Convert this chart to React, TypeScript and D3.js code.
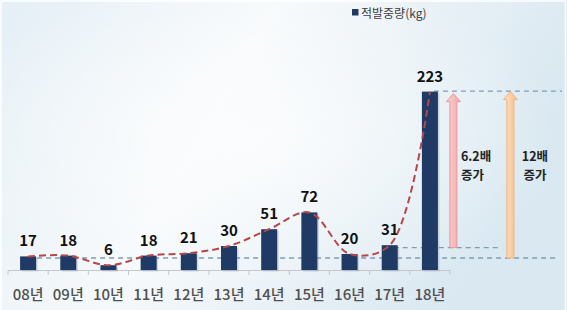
import React from "react";
import * as d3 from "d3";

const categories = ["08년", "09년", "10년", "11년", "12년", "13년", "14년", "15년", "16년", "17년", "18년"];
const values = [17, 18, 6, 18, 21, 30, 51, 72, 20, 31, 223];
const legendLabel = "적발중량(kg)";
const refLowLevel = 15;
const refHighLevel = 28;
const arrowLabels = [
  ["6.2배", "증가"],
  ["12배", "증가"],
];

const W = 567;
const H = 310;

export default function App() {
  const x = d3.scaleBand<string>().domain(categories).range([8, 450]).paddingInner(0).paddingOuter(0);
  const y = d3.scaleLinear().domain([0, 250]).range([270, 70]);
  const bw = 16;
  const cx = (c: string) => (x(c) as number) + x.bandwidth() / 2;

  const linePts: [number, number][] = categories.map((c, i) => [cx(c), y(values[i])]);
  const line = d3.line().curve(d3.curveCatmullRom.alpha(0.5))(linePts) as string;

  const lastC = categories[categories.length - 1];
  const lastX = cx(lastC);
  const topY = y(values[values.length - 1]);
  const hiY = y(refHighLevel);
  const loY = y(refLowLevel);
  const x17 = cx(categories[9]);

  const pinkX = lastX + 23.5;
  const orangeX = lastX + 80.5;

  const arrow = (xc: number, yBottom: number, yTip: number) => {
    const sw = 3.5;
    const hw = 7;
    const hh = 8;
    return `M${xc - sw},${yBottom} L${xc - sw},${yTip + hh} L${xc - hw},${yTip + hh} L${xc},${yTip} L${xc + hw},${yTip + hh} L${xc + sw},${yTip + hh} L${xc + sw},${yBottom} Z`;
  };

  return (
    <svg width={W} height={H} style={{ position: "absolute", left: 0, top: 0 }} fontFamily="'Noto Sans CJK KR', 'Noto Sans', sans-serif">
      <defs>
        <linearGradient id="bg" x1="0" y1="0" x2="1" y2="0.3">
          <stop offset="0" stopColor="#e4eff6" />
          <stop offset="0.45" stopColor="#f6f9fb" />
          <stop offset="1" stopColor="#d9e8f1" />
        </linearGradient>
        <radialGradient id="glow" cx="0.45" cy="0.45" r="0.55">
          <stop offset="0" stopColor="#ffffff" stopOpacity="0.7" />
          <stop offset="1" stopColor="#ffffff" stopOpacity="0" />
        </radialGradient>
        <linearGradient id="pink" x1="0" y1="0" x2="1" y2="0">
          <stop offset="0" stopColor="#fbd3d3" />
          <stop offset="1" stopColor="#f4a6a8" />
        </linearGradient>
        <linearGradient id="orange" x1="0" y1="0" x2="1" y2="0">
          <stop offset="0" stopColor="#fde3c8" />
          <stop offset="1" stopColor="#f9bd86" />
        </linearGradient>
      </defs>
      <rect x={0} y={0} width={W} height={H} fill="url(#bg)" />
      <rect x={0} y={0} width={W} height={H} fill="url(#glow)" />
      <rect x={1} y={1} width={W - 2.5} height={H + 5} fill="none" stroke="#ffffff" strokeWidth={1.5} />

      {/* legend */}
      <rect x={352} y={9} width={6.5} height={6.5} fill="#1f3a64" />
      <text x={361} y={17.5} fontSize={12} fill="#404040">{legendLabel}</text>

      {/* axis */}
      <line x1={8} x2={450} y1={270.5} y2={270.5} stroke="#c4c8cc" strokeWidth={1} />
      {d3.range(categories.length + 1).map((i) => {
        const xx = 8 + i * x.bandwidth();
        return <line key={i} x1={xx} x2={xx} y1={270.5} y2={275} stroke="#c4c8cc" strokeWidth={1} />;
      })}

      {/* reference lines */}
      <line x1={cx(categories[0])} x2={558} y1={loY} y2={loY} stroke="#7f9db4" strokeWidth={1.3} strokeDasharray="5,4" />
      <line x1={x17 + 4} x2={498} y1={hiY} y2={hiY} stroke="#7f9db4" strokeWidth={1.3} strokeDasharray="5,4" />
      <line x1={lastX + 4} x2={562} y1={topY - 0.5} y2={topY - 0.5} stroke="#7f9db4" strokeWidth={1.3} strokeDasharray="5,4" />

      {/* bars */}
      {categories.map((c, i) => (
        <g key={c}>
          <rect x={cx(c) - bw / 2 + 1.5} y={y(values[i]) + 1.5} width={bw} height={270 - y(values[i])} fill="#8a98a8" opacity={0.35} />
          <rect x={cx(c) - bw / 2} y={y(values[i])} width={bw} height={270 - y(values[i])} fill="#1f3a64" />
          <text x={cx(c)} y={y(values[i]) - 10} textAnchor="middle" fontSize={15} fontWeight="bold" fill="#111">
            {values[i]}
          </text>
          <text x={cx(c)} y={300} textAnchor="middle" fontSize={15} fontWeight={500} fill="#505050">
            {c}
          </text>
        </g>
      ))}

      {/* trend */}
      <path d={line} fill="none" stroke="#b5474b" strokeWidth={2} strokeDasharray="7,4" />

      {/* arrows */}
      <path d={arrow(pinkX, hiY, topY + 2)} fill="url(#pink)" stroke="#e49a9c" strokeWidth={1} />
      <path d={arrow(orangeX, loY, topY)} fill="url(#orange)" stroke="#efb27e" strokeWidth={1} />

      <text x={pinkX + 7.5} y={161} fontSize={12.5} fontWeight="bold" fill="#222">{arrowLabels[0][0]}</text>
      <text x={pinkX + 7.5} y={180} fontSize={12.5} fontWeight="bold" fill="#222">{arrowLabels[0][1]}</text>
      <text x={orangeX + 24.5} y={161} textAnchor="middle" fontSize={12.5} fontWeight="bold" fill="#222">{arrowLabels[1][0]}</text>
      <text x={orangeX + 24.5} y={180} textAnchor="middle" fontSize={12.5} fontWeight="bold" fill="#222">{arrowLabels[1][1]}</text>
    </svg>
  );
}
